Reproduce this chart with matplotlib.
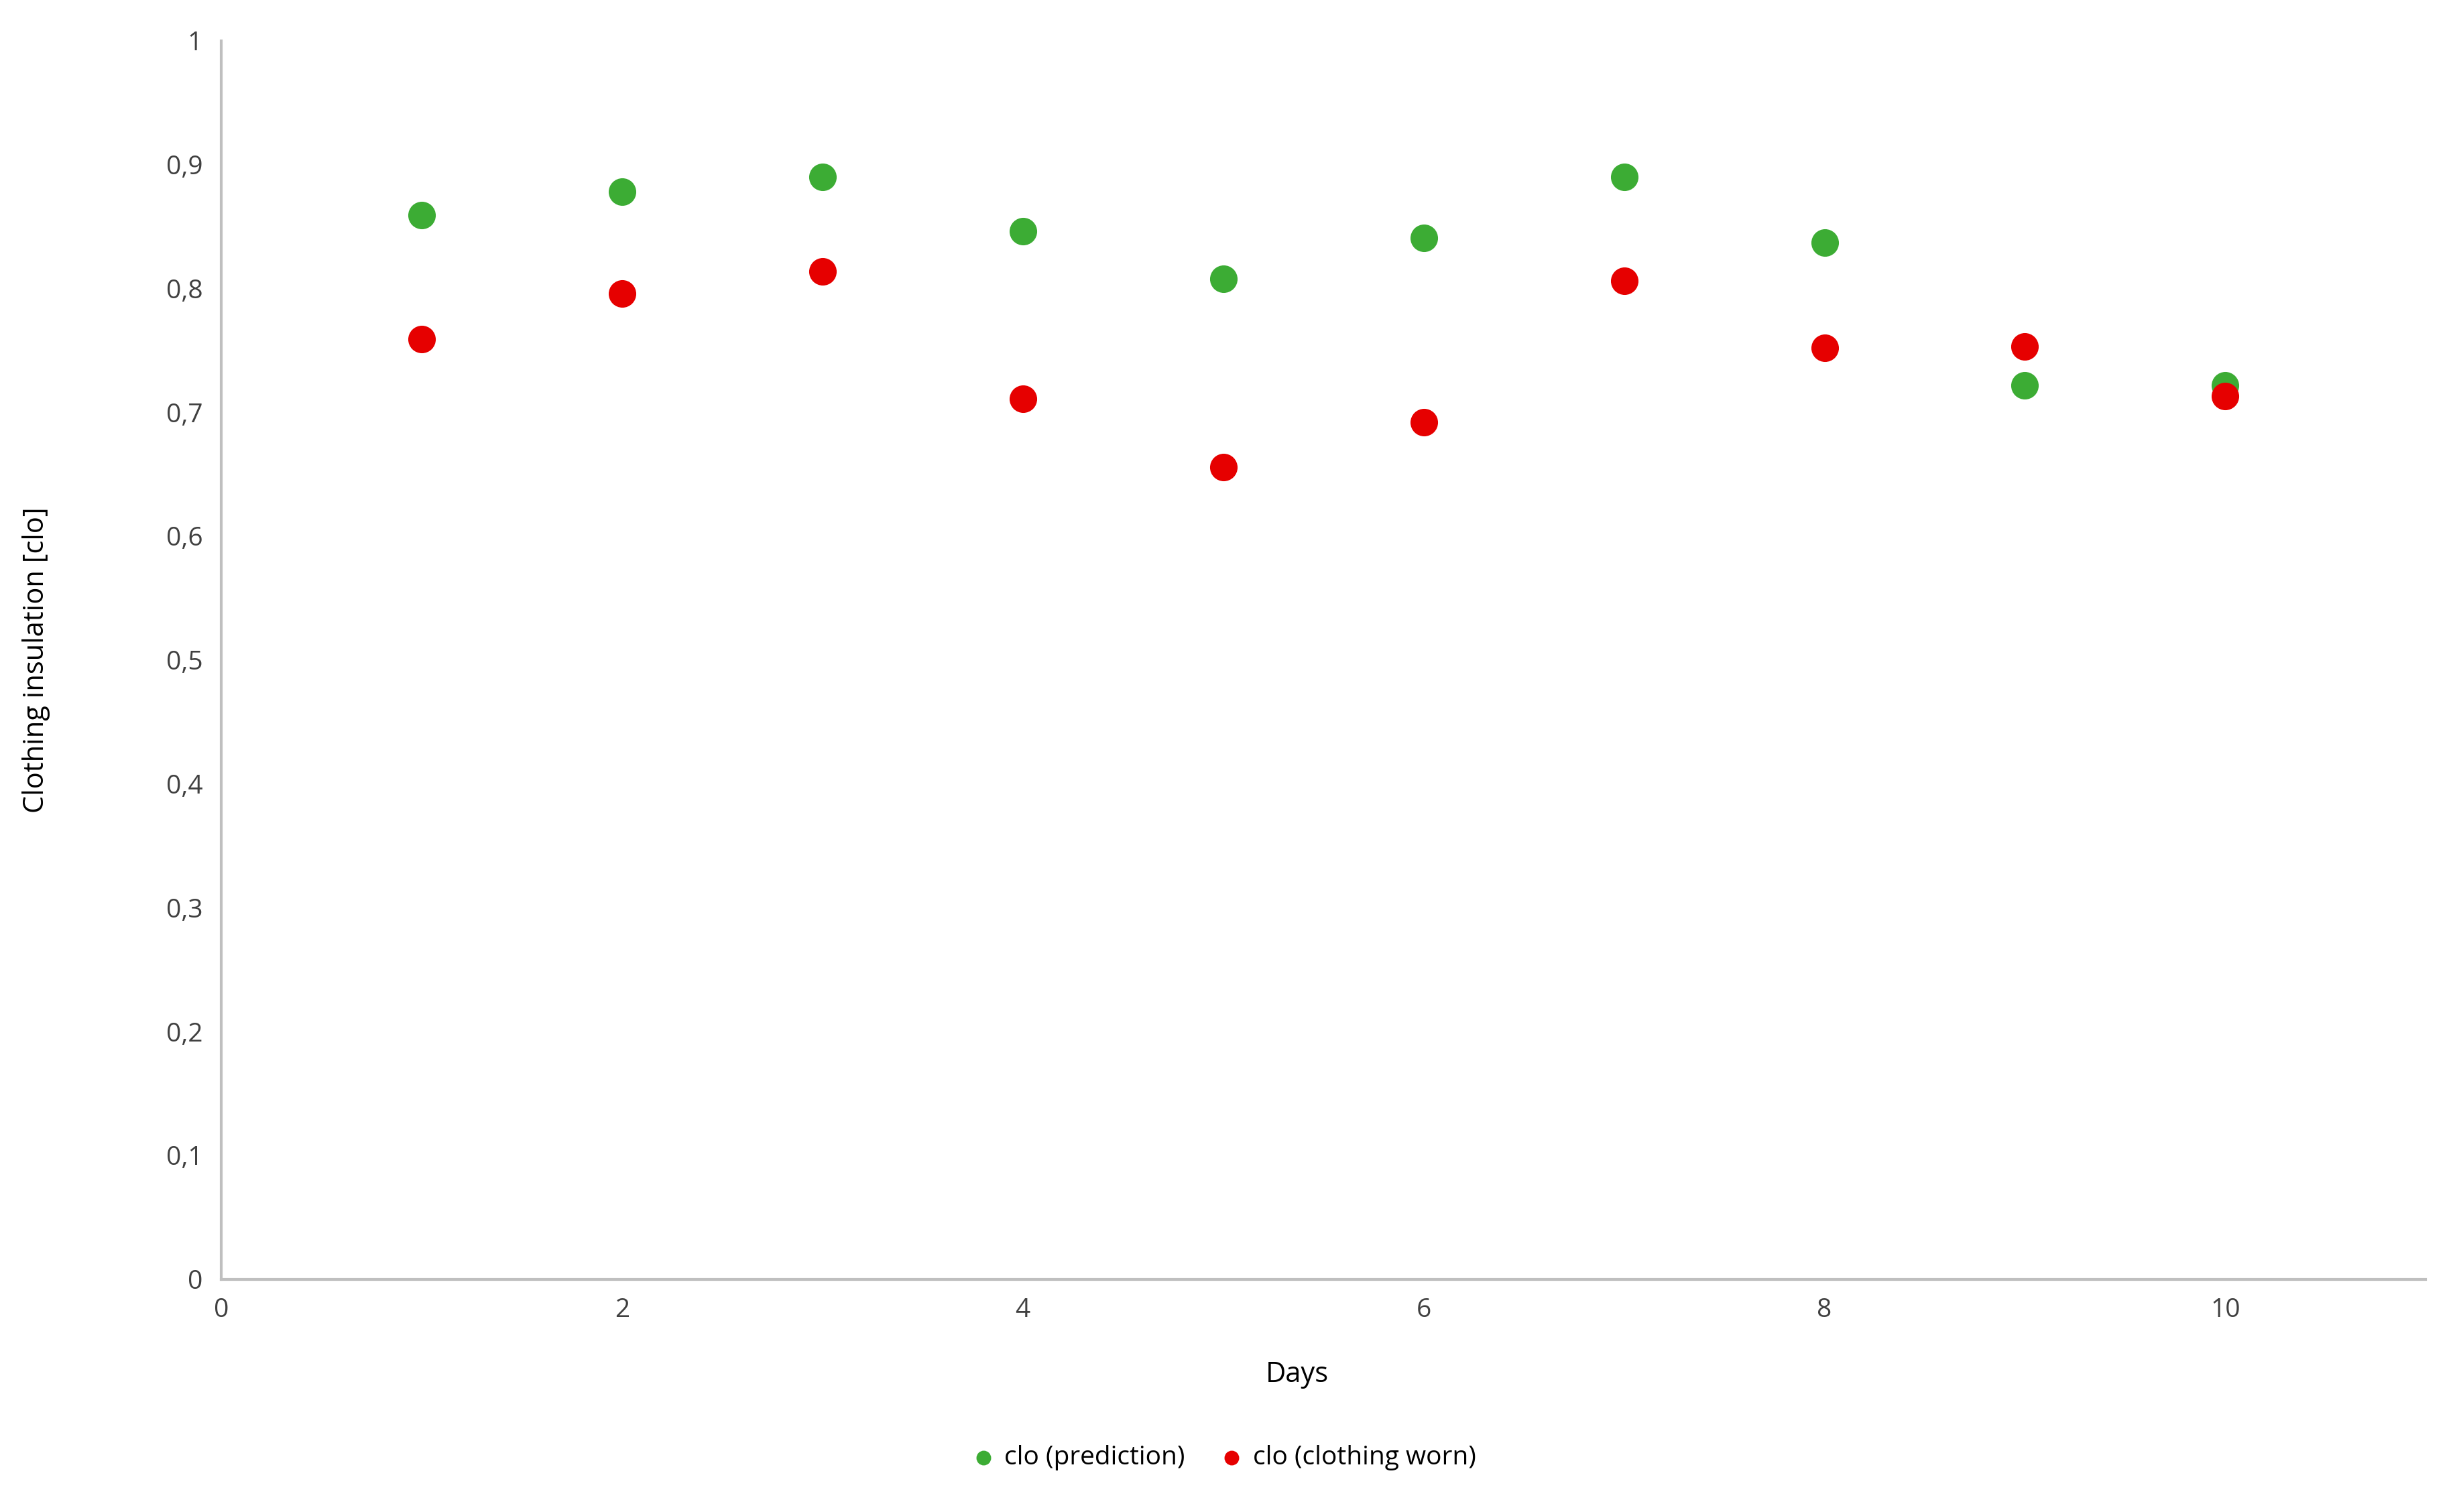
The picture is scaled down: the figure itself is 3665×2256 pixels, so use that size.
import matplotlib

matplotlib.use("Agg")
import matplotlib.pyplot as plt
from matplotlib.ticker import FuncFormatter

days = [1, 2, 3, 4, 5, 6, 7, 8, 9, 10]
clo_prediction = [0.859, 0.878, 0.890, 0.846, 0.808, 0.841, 0.890, 0.837, 0.722, 0.722]
clo_worn = [0.759, 0.796, 0.814, 0.711, 0.656, 0.692, 0.806, 0.752, 0.753, 0.713]

plt.rcParams["font.family"] = ["Open Sans", "DejaVu Sans"]

fig = plt.figure(figsize=(18.33, 11.28), dpi=200)
ax = fig.add_axes([0.090, 0.154, 0.897, 0.819])

ax.scatter(days, clo_prediction, s=190, color="#3cac34", label="clo (prediction)", zorder=3)
ax.scatter(days, clo_worn, s=190, color="#e60000", label="clo (clothing worn)", zorder=3)

ax.set_xlim(0, 11)
ax.set_ylim(0, 1)
ax.set_xticks([0, 2, 4, 6, 8, 10])
ax.set_yticks([i / 10 for i in range(11)])
ax.yaxis.set_major_formatter(FuncFormatter(lambda v, _: "0" if v == 0 else ("1" if v == 1 else f"{v:.1f}".replace(".", ","))))
ax.tick_params(length=0, labelsize=14, colors="#404040", pad=10)
for side in ["top", "right"]:
    ax.spines[side].set_visible(False)
for side in ["left", "bottom"]:
    ax.spines[side].set_color("#bfbfbf")
    ax.spines[side].set_linewidth(1.5)

ax.set_xlabel("Days", fontsize=15, color="#000000", labelpad=20)
ax.xaxis.label.set_x(0.488)
ax.set_ylabel("Clothing insulation [clo]", fontsize=15, color="#000000", labelpad=62)

fig.legend(loc="lower center", bbox_to_anchor=(0.495, 0.012), ncol=2, frameon=False,
           fontsize=14, markerscale=0.5, handletextpad=-0.2, columnspacing=0.8)

fig.savefig("out.png", dpi=200)
